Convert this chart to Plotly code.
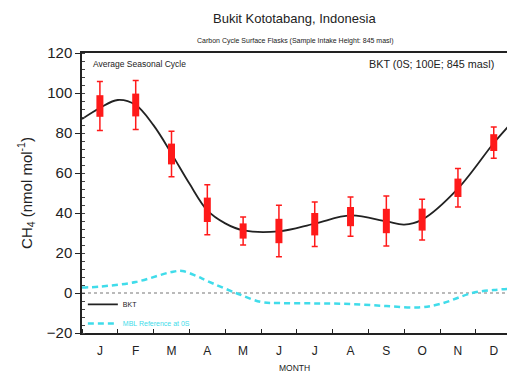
import plotly.graph_objects as go

months = ["J", "F", "M", "A", "M", "J", "J", "A", "S", "O", "N", "D"]
month_pos = [0.5, 1.5, 2.5, 3.5, 4.5, 5.5, 6.5, 7.5, 8.5, 9.5, 10.5, 11.5]

# monthly means and uncertainties (box = inner range, whisker = outer range)
bkt_mean = [93.5, 94.0, 69.5, 41.6, 31.0, 31.0, 34.4, 38.2, 36.0, 36.7, 52.6, 75.2]
bkt_box = [5.4, 5.7, 5.2, 6.1, 3.8, 6.1, 5.6, 4.8, 6.1, 5.5, 4.6, 4.2]
bkt_whisker = [12.3, 12.3, 11.4, 12.5, 7.0, 12.9, 11.1, 9.8, 12.5, 10.2, 9.6, 7.8]

# smooth fitted seasonal curve
fit_x = [0.0, 0.5, 1.0, 1.5, 2.0, 2.5, 3.0, 3.5, 4.0, 4.5, 5.5, 6.5, 7.5, 8.5, 9.0, 9.5, 10.5, 11.5, 11.89]
fit_y = [87.0, 92.5, 96.5, 94.0, 83.8, 69.7, 54.7, 41.3, 34.8, 31.3, 30.8, 34.7, 38.8, 35.8, 34.2, 36.7, 52.2, 75.0, 83.0]

# MBL reference curve
mbl_x = [0.0, 0.5, 1.5, 2.5, 2.8, 3.2, 3.5, 4.3, 5.0, 5.5, 6.5, 7.5, 8.5, 9.4, 10.0, 10.9, 11.5, 11.89]
mbl_y = [2.7, 3.2, 5.5, 10.5, 11.0, 8.5, 6.0, 0.0, -4.5, -5.0, -5.2, -5.5, -6.5, -7.2, -5.5, 0.0, 1.5, 2.0]

y_ticks = [-20, 0, 20, 40, 60, 80, 100, 120]

FONT = "Liberation Sans, Arial, sans-serif"
RED = "#ff1a1a"
CYAN = "#40dcea"

fig = go.Figure()

fig.add_trace(go.Scatter(
    x=mbl_x, y=mbl_y, mode="lines", line_shape="spline",
    line=dict(color=CYAN, width=2.5, dash="6px,4px"),
    name='<span style="color:#40dcea">MBL Reference at 0S</span>', showlegend=True,
))
fig.add_trace(go.Scatter(
    x=fit_x, y=fit_y, mode="lines", line_shape="spline",
    line=dict(color="#222222", width=1.8), name="BKT", showlegend=True,
))
# whiskers
fig.add_trace(go.Scatter(
    x=month_pos, y=bkt_mean, mode="markers",
    marker=dict(color=RED, size=3, symbol="square"),
    error_y=dict(type="data", array=bkt_whisker, color=RED, thickness=1.5, width=3),
    showlegend=False,
))
# boxes
fig.add_trace(go.Scatter(
    x=month_pos, y=bkt_mean, mode="markers",
    marker=dict(color=RED, size=3, symbol="square"),
    error_y=dict(type="data", array=bkt_box, color=RED, thickness=7, width=0),
    showlegend=False,
))

fig.add_shape(type="line", xref="paper", x0=0, x1=1, yref="y", y0=0, y1=0,
              line=dict(color="#777777", width=1.2, dash="dot"), layer="below")

fig.update_layout(
    width=508, height=375,
    margin=dict(l=82, r=1, t=53, b=42, autoexpand=False),
    paper_bgcolor="white", plot_bgcolor="white",
    font=dict(family=FONT, color="#222222"),
    legend=dict(x=0.002, y=0.154, xanchor="left", yanchor="top",
                font=dict(size=7, family=FONT), bgcolor="rgba(0,0,0,0)",
                traceorder="reversed", itemwidth=30, tracegroupgap=0),
    xaxis=dict(
        range=[0, 11.87], tickmode="array", tickvals=month_pos, ticktext=months,
        ticks="", showgrid=False, zeroline=False, automargin=False,
        showline=True, linecolor="#222222", linewidth=1.5, mirror=True,
        tickfont=dict(size=12, family=FONT, color="#222222"),
        ticklabelstandoff=6,
        minor=dict(tick0=0, dtick=1, ticks="inside", ticklen=4, tickcolor="#222222", showgrid=False),
    ),
    yaxis=dict(
        range=[-20, 120], tickmode="array", tickvals=y_ticks,
        ticks="outside", ticklen=5, tickcolor="#222222", showgrid=False, zeroline=False,
        showline=True, linecolor="#222222", linewidth=1.5, mirror=False, automargin=False,
        tickfont=dict(size=15, family=FONT, color="#222222"),
        minor=dict(tick0=0, dtick=4, ticks="inside", ticklen=3, tickcolor="#444444", showgrid=False),
        title=dict(text="CH<sub>4</sub> (nmol mol<sup>-1</sup>)", font=dict(size=15, family=FONT), standoff=11),
    ),
    annotations=[
        dict(text="Bukit Kototabang, Indonesia", xref="paper", yref="paper", x=0.5, y=1.0,
             yshift=35, showarrow=False, font=dict(size=13, family=FONT, color="#222222"),
             xanchor="center", yanchor="middle"),
        dict(text="Carbon Cycle Surface Flasks (Sample Intake Height: 845 masl)", xref="paper",
             yref="paper", x=0.5, y=1.0, yshift=12, showarrow=False,
             font=dict(size=7, family=FONT, color="#222222"), xanchor="center", yanchor="middle"),
        dict(text="Average Seasonal Cycle", xref="paper", yref="paper", x=0.02, y=1.0,
             yshift=-11, showarrow=False, font=dict(size=8.5, family=FONT, color="#222222"),
             xanchor="left", yanchor="middle"),
        dict(text="BKT (0S; 100E; 845 masl)", xref="paper", yref="paper", x=0.975, y=1.0,
             yshift=-11, showarrow=False, font=dict(size=10.8, family=FONT, color="#222222"),
             xanchor="right", yanchor="middle"),
        dict(text="MONTH", xref="paper", yref="paper", x=0.5, y=0.0,
             yshift=-35, showarrow=False, font=dict(size=8.5, family=FONT, color="#222222"),
             xanchor="center", yanchor="middle"),
    ],
)

fig.write_html("out.html", config={"displayModeBar": False},
               post_script="document.body.style.margin='0';document.body.style.overflow='hidden';")
